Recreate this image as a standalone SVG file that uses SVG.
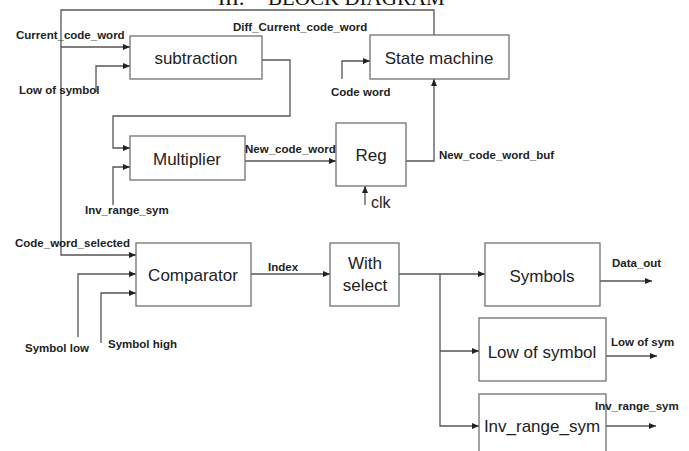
<svg xmlns="http://www.w3.org/2000/svg" width="689" height="451" viewBox="0 0 689 451">
<style>
.box{fill:#fff;stroke:#707070;stroke-width:1.3}
.bt{font-family:"Liberation Sans",Arial,sans-serif;font-size:17px;fill:#222;text-anchor:middle}
.lb{font-family:"Liberation Sans",Arial,sans-serif;font-size:11.5px;font-weight:bold;fill:#222}
.ln{fill:none;stroke:#555;stroke-width:1.3}
.ttl{font-family:"Liberation Serif","Times New Roman",serif;font-size:21px;fill:#111}
</style>
<defs>
<marker id="ah" markerWidth="7" markerHeight="6" refX="7" refY="3" orient="auto" markerUnits="userSpaceOnUse">
<path d="M0,0 L7,3 L0,6 z" fill="#222"/>
</marker>
</defs>
<rect width="689" height="451" fill="#fff"/>
<text class="ttl" x="218" y="5">III.</text>
<text class="ttl" x="268" y="5">BLOCK DIAGRAM</text>

<g id="connectors">
<path class="ln" d="M434,35 V10 H61 V255 H136" marker-end="url(#ah)"/>
<path class="ln" d="M61,47 H130" marker-end="url(#ah)"/>
<path class="ln" d="M96,92 V66 H130" marker-end="url(#ah)"/>
<path class="ln" d="M262,60 H290 V116 H113 V148 H130" marker-end="url(#ah)"/>
<path class="ln" d="M113,205 V167 H130" marker-end="url(#ah)"/>
<path class="ln" d="M245,161 H336" marker-end="url(#ah)"/>
<path class="ln" d="M365,205 V186" marker-end="url(#ah)"/>
<path class="ln" d="M406,161 H434 V79" marker-end="url(#ah)"/>
<path class="ln" d="M342,79 V61 H370" marker-end="url(#ah)"/>
<path class="ln" d="M78,337 V274 H136" marker-end="url(#ah)"/>
<path class="ln" d="M101,343 V293 H136" marker-end="url(#ah)"/>
<path class="ln" d="M251,274 H330" marker-end="url(#ah)"/>
<path class="ln" d="M399,274 H485" marker-end="url(#ah)"/>
<path class="ln" d="M440,274 V426 H479" marker-end="url(#ah)"/>
<path class="ln" d="M440,351 H479" marker-end="url(#ah)"/>
<path class="ln" d="M600,281 H652" marker-end="url(#ah)"/>
<path class="ln" d="M606,356 H657" marker-end="url(#ah)"/>
<path class="ln" d="M606,426 H656" marker-end="url(#ah)"/>
</g>

<g id="subtraction"><rect class="box" x="130" y="36" width="132" height="43"/><text class="bt" x="196" y="64">subtraction</text></g>
<g id="state-machine"><rect class="box" x="370" y="35" width="139" height="44"/><text class="bt" x="439" y="64">State machine</text></g>
<g id="multiplier"><rect class="box" x="130" y="136" width="115" height="44"/><text class="bt" x="187" y="165">Multiplier</text></g>
<g id="reg"><rect class="box" x="336" y="123" width="70" height="63"/><text class="bt" x="371" y="161" font-size="18">Reg</text></g>
<g id="comparator"><rect class="box" x="136" y="243" width="115" height="63"/><text class="bt" x="193" y="281" font-size="18">Comparator</text></g>
<g id="with-select"><rect class="box" x="330" y="243" width="69" height="63"/><text class="bt" x="365" y="269" font-size="18">With</text><text class="bt" x="365" y="291" font-size="18">select</text></g>
<g id="symbols"><rect class="box" x="485" y="243" width="115" height="63"/><text class="bt" x="542" y="282" font-size="18">Symbols</text></g>
<g id="low-of-symbol"><rect class="box" x="479" y="318" width="127" height="63"/><text class="bt" x="542" y="358" font-size="18">Low of symbol</text></g>
<g id="inv-range-sym"><rect class="box" x="479" y="394" width="127" height="70"/><text class="bt" x="542" y="432" font-size="18">Inv_range_sym</text></g>

<g id="labels">
<text class="lb" x="16" y="39">Current_code_word</text>
<text class="lb" x="19" y="94">Low of symbol</text>
<text class="lb" x="233" y="31">Diff_Current_code_word</text>
<text class="lb" x="331" y="96">Code word</text>
<text class="lb" x="245" y="153">New_code_word</text>
<text class="lb" x="439" y="159">New_code_word_buf</text>
<text class="lb" x="85" y="214">Inv_range_sym</text>
<text class="lb" x="15" y="247">Code_word_selected</text>
<text class="lb" x="268" y="271">Index</text>
<text class="lb" x="25" y="352">Symbol low</text>
<text class="lb" x="108" y="348">Symbol high</text>
<text class="lb" x="612" y="267">Data_out</text>
<text class="lb" x="611" y="346">Low of sym</text>
<text class="lb" x="595" y="410">Inv_range_sym</text>
<text x="371" y="208" font-family="Liberation Sans,Arial,sans-serif" font-size="16" fill="#222">clk</text>
</g>
</svg>
